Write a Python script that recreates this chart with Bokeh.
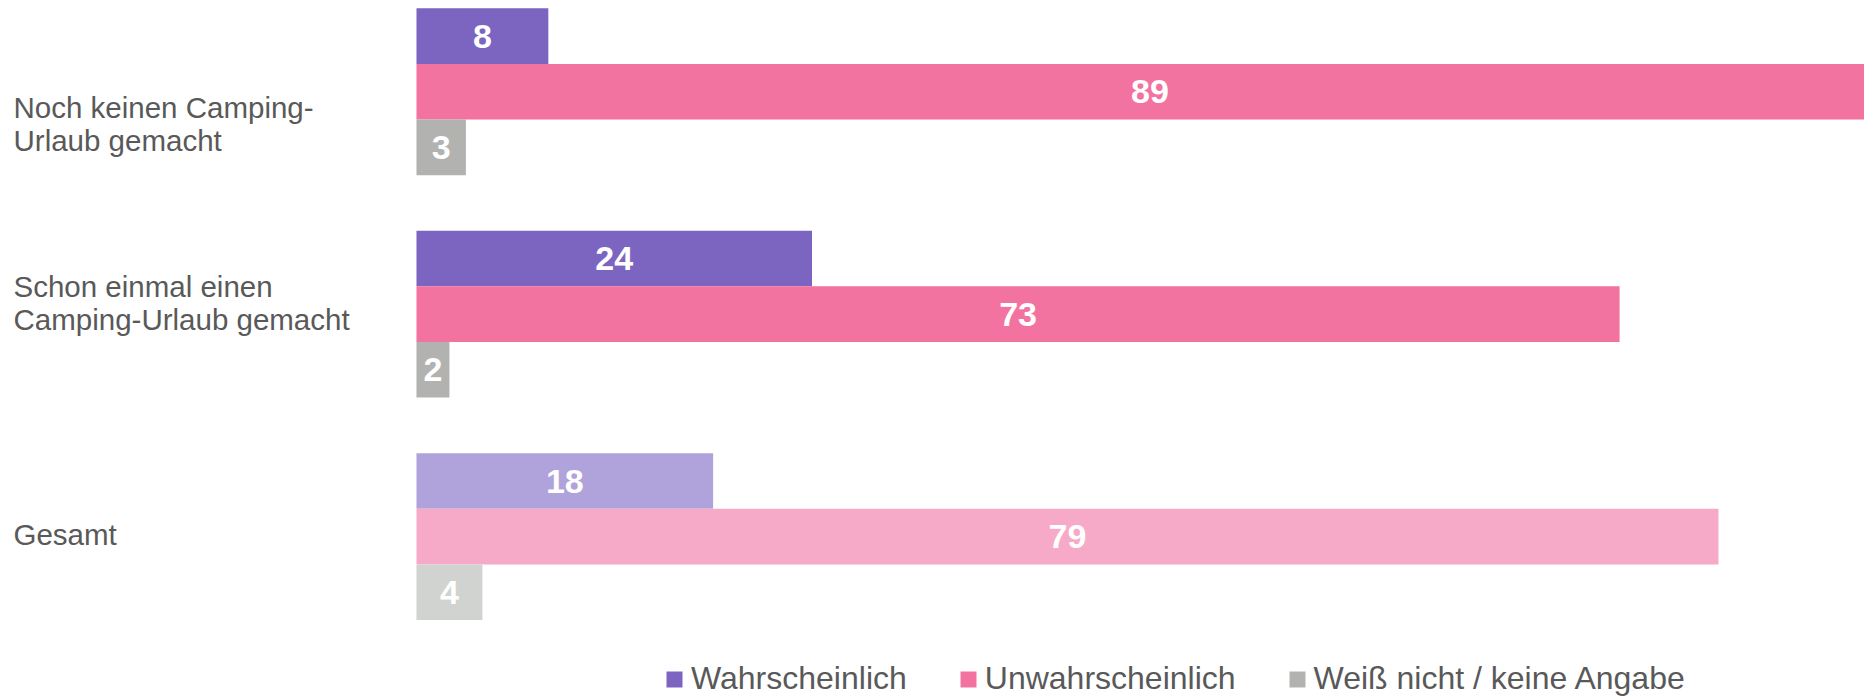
from bokeh.plotting import figure
from bokeh.models import ColumnDataSource, Range1d, Legend, LegendItem
from bokeh.embed import file_html
from bokeh.resources import INLINE
from bokeh.core.properties import value

# ---- data ----
categories = ["Noch keinen Camping-\nUrlaub gemacht",
              "Schon einmal einen\nCamping-Urlaub gemacht",
              "Gesamt"]
series_names = ["Wahrscheinlich", "Unwahrscheinlich", "Weiß nicht / keine Angabe"]
wahrscheinlich = [8, 24, 18]
unwahrscheinlich = [89, 73, 79]
weiss_nicht = [3, 2, 4]

# ---- styles ----
dark_colors = ["#7C64C1", "#F272A0", "#B2B3B1"]
light_colors = ["#B0A3DB", "#F7AAC7", "#D1D3D0"]
FONT = "Liberation Sans"
TEXT_COLOR = "#595959"
bar_h = 0.25
offsets = [-0.25, 0.0, 0.25]
label_dy = [32, -11, -2]  # px shift of category labels

X0, X1 = -25.24, 87.86
W, H = 1864, 699
p = figure(width=W, height=H, output_backend="svg", toolbar_location=None,
           x_range=Range1d(X0, X1), y_range=Range1d(2.732, -0.410),
           x_axis_location=None, y_axis_location=None,
           min_border=0, min_border_left=0, min_border_right=0,
           min_border_top=0, min_border_bottom=0)
p.grid.visible = False
p.outline_line_color = None

group_pos = list(range(len(categories)))
renderers = []
for s, vals in enumerate([wahrscheinlich, unwahrscheinlich, weiss_nicht]):
    colors = [light_colors[s] if c == "Gesamt" else dark_colors[s] for c in categories]
    src = ColumnDataSource(dict(
        y=[g + offsets[s] for g in group_pos],
        right=vals,
        mid=[v / 2 for v in vals],
        txt=[str(v) for v in vals],
        color=colors,
    ))
    r = p.hbar(y="y", left=0, right="right", height=bar_h, fill_color="color",
               line_color=None, source=src)
    renderers.append(r)
    p.text(x="mid", y="y", text="txt", source=src, text_color="white",
           text_font=value(FONT), text_font_style="bold", text_font_size="34px",
           text_align="center", text_baseline="middle")

# category labels
cat_src = ColumnDataSource(dict(
    x=[X0] * len(categories),
    y=group_pos,
    txt=categories,
    dy=label_dy,
))
p.text(x="x", y="y", text="txt", source=cat_src, x_offset=13, y_offset="dy",
       text_color=TEXT_COLOR, text_font=value(FONT), text_font_size="29.5px",
       text_align="left", text_baseline="middle", text_line_height=1.0)

legend = Legend(
    items=[LegendItem(label=series_names[i], renderers=[renderers[i]], index=0)
           for i in range(3)],
    orientation="horizontal", location=(664, 2), padding=0, margin=0,
    spacing=51, label_standoff=7, glyph_width=20, glyph_height=20,
    label_text_font=FONT, label_text_font_size="32px",
    label_text_color=TEXT_COLOR, border_line_color=None,
    background_fill_alpha=0,
)
p.add_layout(legend)

open("out.html", "w").write(file_html(p, INLINE))
